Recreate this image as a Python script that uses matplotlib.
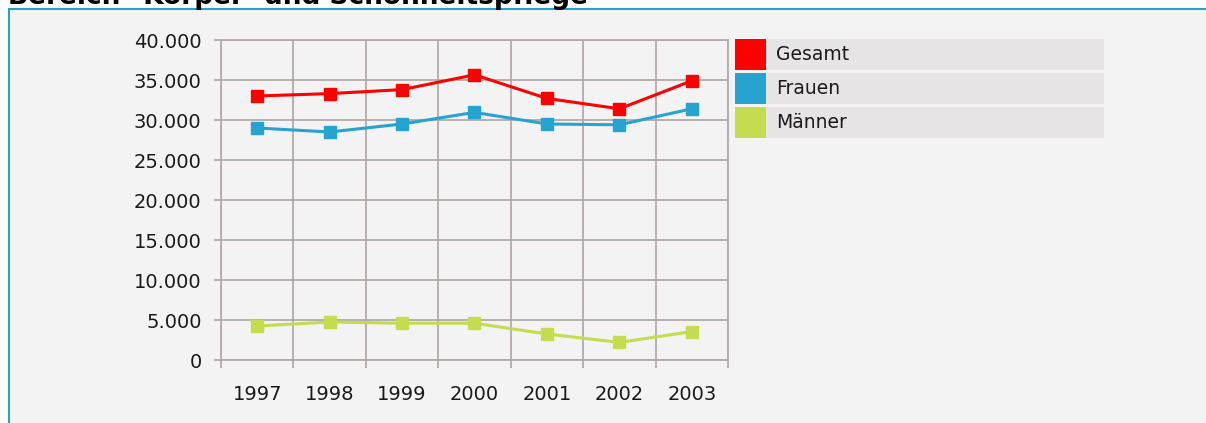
import matplotlib
matplotlib.use("Agg")
import matplotlib.pyplot as plt
import matplotlib.ticker as mtick
from matplotlib.patches import Rectangle

# data
years = ["1997", "1998", "1999", "2000", "2001", "2002", "2003"]
gesamt = [33000, 33300, 33800, 35650, 32700, 31400, 34900]
frauen = [29000, 28500, 29500, 30950, 29500, 29400, 31400]
maenner = [4250, 4750, 4600, 4600, 3250, 2200, 3550]
series_names = ["Gesamt", "Frauen", "Männer"]
y_ticks = [0, 5000, 10000, 15000, 20000, 25000, 30000, 35000, 40000]

colors = ["#ff0000", "#27a3d0", "#c4dc4e"]
grid_color = "#b3a9a9"
panel_color = "#f3f3f3"
border_color = "#2aa0cc"

W, H = 1206, 423
fig = plt.figure(figsize=(W / 100, H / 100), dpi=100)
fig.patch.set_facecolor("white")

# panel with blue border (continues beyond right/bottom edges)
fig.patches.append(Rectangle((9 / W, -0.1), 1.2, 1 - 9 / H + 0.1,
                             transform=fig.transFigure, facecolor=panel_color,
                             edgecolor=border_color, linewidth=1.5, zorder=-1))

# title is cut off at the top of the image
fig.text(8 / W, 1 - 4 / H, "Bereich \"Körper- und Schönheitspflege\"",
         fontsize=19, fontweight="bold", color="black", va="baseline", ha="left")

ax = fig.add_axes([221 / W, (H - 360) / H, 507 / W, 320 / H])
ax.set_zorder(1)
ax.set_facecolor(panel_color)

x = list(range(len(years)))
for values, c in zip([gesamt, frauen, maenner], colors):
    ax.plot(x, values, color=c, linewidth=2.2, marker="s", markersize=8.5,
            solid_joinstyle="miter", zorder=3)

ax.set_xlim(-0.5, len(years) - 0.5)
ax.set_ylim(0, 40000)

# year labels centred between vertical grid lines
ax.set_xticks(x)
ax.set_xticklabels(years)
ax.set_xticks([i - 0.5 for i in range(len(years) + 1)], minor=True)
ax.tick_params(axis="x", which="major", length=0, pad=18, labelsize=14, labelcolor="#1a1a1a")
ax.tick_params(axis="x", which="minor", length=6, width=1.3, color=grid_color)
ax.xaxis.grid(True, which="minor", color=grid_color, linewidth=1.3)

ax.set_yticks(y_ticks)
ax.yaxis.set_major_formatter(mtick.FuncFormatter(lambda v, p: f"{int(v):,}".replace(",", ".")))
ax.tick_params(axis="y", length=5, width=1.3, color=grid_color, pad=9, labelsize=14,
               labelcolor="#1a1a1a")
ax.yaxis.grid(True, color=grid_color, linewidth=1.3)
ax.set_axisbelow(True)

for spine in ax.spines.values():
    spine.set_color(grid_color)
    spine.set_linewidth(1.3)

# legend: coloured squares with grey label bars
rows = [(39, 70), (73, 104), (107, 138)]
for (top, bottom), name, c in zip(rows, series_names, colors):
    hgt = (bottom - top) / H
    y0 = 1 - bottom / H
    fig.patches.append(Rectangle((735 / W, y0), 31 / W, hgt, transform=fig.transFigure,
                                 facecolor=c, edgecolor="none", zorder=2))
    fig.patches.append(Rectangle((766 / W, y0), 338 / W, hgt, transform=fig.transFigure,
                                 facecolor="#e6e4e4", edgecolor="none", zorder=2))
    fig.text(776 / W, y0 + hgt / 2, name, fontsize=13.5, color="#1a1a1a",
             va="center", ha="left", zorder=3)

fig.savefig("out.png", dpi=100, facecolor=fig.get_facecolor())
